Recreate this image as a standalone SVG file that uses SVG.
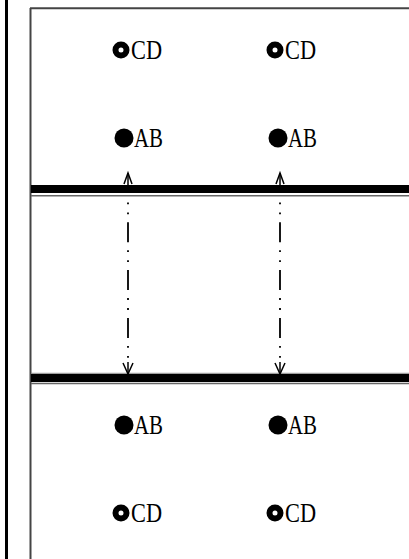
<svg xmlns="http://www.w3.org/2000/svg" width="409" height="559" viewBox="0 0 409 559">
<style>
.lbl{font-family:"Liberation Serif","DejaVu Serif",serif;font-size:27px;fill:#000}
.ring{fill:none;stroke:#000;stroke-width:6}
.dot{fill:#000}
.dash{stroke:#000;stroke-width:1.8;fill:none;stroke-dasharray:1.8 8.2 1.8 8 20 8}
.ah{stroke:#000;stroke-width:1.5;fill:none}
</style>
<rect x="0" y="0" width="409" height="559" fill="#fff"/>
<g id="frame">
<rect x="5" y="0" width="3" height="559" fill="#000"/>
<line x1="30.5" y1="8" x2="30.5" y2="559" stroke="#444" stroke-width="2"/>
<line x1="30" y1="8.3" x2="409" y2="8.3" stroke="#444" stroke-width="2"/>
</g>
<g id="band-top">
<rect x="31" y="185" width="378" height="8" fill="#000"/>
<line x1="31" y1="195.8" x2="409" y2="195.8" stroke="#666" stroke-width="1.5"/>
</g>
<g id="band-bottom">
<line x1="31" y1="373.3" x2="409" y2="373.3" stroke="#888" stroke-width="1"/>
<rect x="31" y="374" width="378" height="8" fill="#000"/>
<line x1="31" y1="383.5" x2="409" y2="383.5" stroke="#666" stroke-width="1.5"/>
</g>
<g id="connectors">
<g id="conn-left">
<line x1="128" y1="173" x2="128" y2="185" class="ah"/>
<polyline points="124,184 128,173 132,184" class="ah"/>
<line x1="128" y1="202.5" x2="128" y2="360" class="dash"/>
<line x1="128" y1="362" x2="128" y2="374" class="ah"/>
<polyline points="123,363 128,374 133,363" class="ah"/>
</g>
<g id="conn-right">
<line x1="280" y1="173" x2="280" y2="185" class="ah"/>
<polyline points="276,184 280,173 284,184" class="ah"/>
<line x1="280" y1="202.5" x2="280" y2="360" class="dash"/>
<line x1="280" y1="362" x2="280" y2="374" class="ah"/>
<polyline points="275,363 280,374 285,363" class="ah"/>
</g>
</g>
<g id="n-cd-1"><circle cx="121" cy="50" r="5.5" class="ring"/><text x="131" y="59" class="lbl" textLength="31" lengthAdjust="spacingAndGlyphs">CD</text></g>
<g id="n-cd-2"><circle cx="275" cy="50" r="5.5" class="ring"/><text x="285" y="59" class="lbl" textLength="31" lengthAdjust="spacingAndGlyphs">CD</text></g>
<g id="n-ab-1"><circle cx="124" cy="138" r="9.5" class="dot"/><text x="134" y="147" class="lbl" textLength="29" lengthAdjust="spacingAndGlyphs">AB</text></g>
<g id="n-ab-2"><circle cx="278" cy="138" r="9.5" class="dot"/><text x="288" y="147" class="lbl" textLength="29" lengthAdjust="spacingAndGlyphs">AB</text></g>
<g id="n-ab-3"><circle cx="124" cy="425" r="9.5" class="dot"/><text x="134" y="434" class="lbl" textLength="29" lengthAdjust="spacingAndGlyphs">AB</text></g>
<g id="n-ab-4"><circle cx="278" cy="425" r="9.5" class="dot"/><text x="288" y="434" class="lbl" textLength="29" lengthAdjust="spacingAndGlyphs">AB</text></g>
<g id="n-cd-3"><circle cx="121" cy="513" r="5.5" class="ring"/><text x="131" y="522" class="lbl" textLength="31" lengthAdjust="spacingAndGlyphs">CD</text></g>
<g id="n-cd-4"><circle cx="275" cy="513" r="5.5" class="ring"/><text x="285" y="522" class="lbl" textLength="31" lengthAdjust="spacingAndGlyphs">CD</text></g>
</svg>
